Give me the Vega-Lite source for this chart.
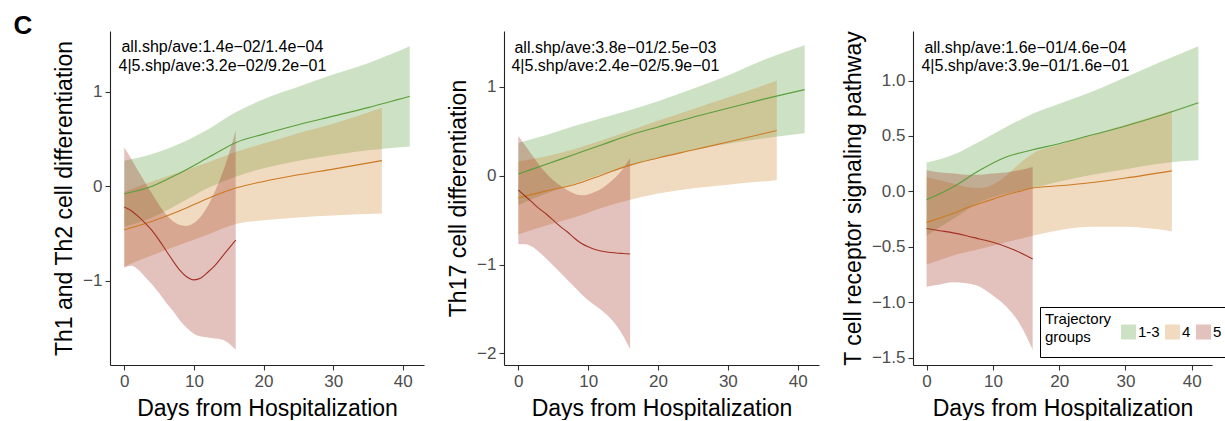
{
  "$schema": "https://vega.github.io/schema/vega-lite/v6.json",
  "padding": {"left": 13, "top": 12, "right": 0, "bottom": 0},
  "title": {"text": "C", "anchor": "start", "fontSize": 26, "fontWeight": "bold", "color": "black", "offset": -8, "dx": -40},
  "config": {
    "font": "Liberation Sans",
    "view": {"stroke": null},
    "axis": {"grid": false, "domainColor": "#222", "domainWidth": 1.1, "tickColor": "#333", "tickSize": 5, "tickWidth": 1.1, "labelColor": "#4d4d4d", "labelFontSize": 17, "labelPadding": 3, "titleFontSize": 23, "titleFontWeight": "normal", "titleColor": "black"},
    "axisX": {"titlePadding": 8},
    "axisY": {"titlePadding": 6}
  },
  "datasets": {
    "curves": [
      {"panel":1,"group":"1-3","day":0,"lo":-0.43,"fit":-0.08,"hi":0.27},
      {"panel":1,"group":"1-3","day":4,"lo":-0.33,"fit":0.00,"hi":0.34},
      {"panel":1,"group":"1-3","day":8,"lo":-0.18,"fit":0.14,"hi":0.45},
      {"panel":1,"group":"1-3","day":12,"lo":-0.02,"fit":0.30,"hi":0.60},
      {"panel":1,"group":"1-3","day":16,"lo":0.10,"fit":0.46,"hi":0.78},
      {"panel":1,"group":"1-3","day":20,"lo":0.19,"fit":0.55,"hi":0.92},
      {"panel":1,"group":"1-3","day":25,"lo":0.27,"fit":0.65,"hi":1.05},
      {"panel":1,"group":"1-3","day":30,"lo":0.33,"fit":0.74,"hi":1.18},
      {"panel":1,"group":"1-3","day":35,"lo":0.38,"fit":0.83,"hi":1.30},
      {"panel":1,"group":"1-3","day":41,"lo":0.42,"fit":0.95,"hi":1.48},
      {"panel":1,"group":"4","day":0,"lo":-0.85,"fit":-0.46,"hi":-0.06},
      {"panel":1,"group":"4","day":4,"lo":-0.73,"fit":-0.37,"hi":0.05},
      {"panel":1,"group":"4","day":8,"lo":-0.62,"fit":-0.26,"hi":0.15},
      {"panel":1,"group":"4","day":12,"lo":-0.51,"fit":-0.13,"hi":0.25},
      {"panel":1,"group":"4","day":16,"lo":-0.40,"fit":-0.02,"hi":0.36},
      {"panel":1,"group":"4","day":20,"lo":-0.36,"fit":0.05,"hi":0.45},
      {"panel":1,"group":"4","day":25,"lo":-0.33,"fit":0.12,"hi":0.56},
      {"panel":1,"group":"4","day":30,"lo":-0.31,"fit":0.18,"hi":0.66},
      {"panel":1,"group":"4","day":37,"lo":-0.29,"fit":0.27,"hi":0.83},
      {"panel":1,"group":"5","day":0,"lo":-0.86,"fit":-0.22,"hi":0.41},
      {"panel":1,"group":"5","day":1,"lo":-0.84,"fit":-0.26,"hi":0.29},
      {"panel":1,"group":"5","day":2,"lo":-0.88,"fit":-0.32,"hi":0.16},
      {"panel":1,"group":"5","day":3,"lo":-0.96,"fit":-0.39,"hi":0.04},
      {"panel":1,"group":"5","day":4,"lo":-1.04,"fit":-0.47,"hi":-0.08},
      {"panel":1,"group":"5","day":5,"lo":-1.13,"fit":-0.57,"hi":-0.20},
      {"panel":1,"group":"5","day":6,"lo":-1.23,"fit":-0.68,"hi":-0.30},
      {"panel":1,"group":"5","day":7,"lo":-1.32,"fit":-0.79,"hi":-0.37},
      {"panel":1,"group":"5","day":8,"lo":-1.42,"fit":-0.89,"hi":-0.41},
      {"panel":1,"group":"5","day":9,"lo":-1.50,"fit":-0.96,"hi":-0.42},
      {"panel":1,"group":"5","day":10,"lo":-1.56,"fit":-0.99,"hi":-0.39},
      {"panel":1,"group":"5","day":11,"lo":-1.59,"fit":-0.97,"hi":-0.32},
      {"panel":1,"group":"5","day":12,"lo":-1.60,"fit":-0.91,"hi":-0.21},
      {"panel":1,"group":"5","day":13,"lo":-1.61,"fit":-0.84,"hi":-0.06},
      {"panel":1,"group":"5","day":14,"lo":-1.62,"fit":-0.75,"hi":0.12},
      {"panel":1,"group":"5","day":15,"lo":-1.66,"fit":-0.66,"hi":0.33},
      {"panel":1,"group":"5","day":16,"lo":-1.73,"fit":-0.57,"hi":0.59},
      {"panel":2,"group":"1-3","day":0,"lo":-0.33,"fit":0.02,"hi":0.37},
      {"panel":2,"group":"1-3","day":4,"lo":-0.20,"fit":0.13,"hi":0.46},
      {"panel":2,"group":"1-3","day":8,"lo":-0.09,"fit":0.24,"hi":0.56},
      {"panel":2,"group":"1-3","day":12,"lo":0.02,"fit":0.35,"hi":0.65},
      {"panel":2,"group":"1-3","day":16,"lo":0.11,"fit":0.46,"hi":0.74},
      {"panel":2,"group":"1-3","day":20,"lo":0.20,"fit":0.55,"hi":0.84},
      {"panel":2,"group":"1-3","day":25,"lo":0.29,"fit":0.66,"hi":0.98},
      {"panel":2,"group":"1-3","day":30,"lo":0.36,"fit":0.76,"hi":1.13},
      {"panel":2,"group":"1-3","day":35,"lo":0.42,"fit":0.86,"hi":1.30},
      {"panel":2,"group":"1-3","day":41,"lo":0.48,"fit":0.97,"hi":1.47},
      {"panel":2,"group":"4","day":0,"lo":-0.66,"fit":-0.25,"hi":0.16},
      {"panel":2,"group":"4","day":4,"lo":-0.56,"fit":-0.17,"hi":0.22},
      {"panel":2,"group":"4","day":8,"lo":-0.47,"fit":-0.10,"hi":0.30},
      {"panel":2,"group":"4","day":12,"lo":-0.36,"fit":0.01,"hi":0.40},
      {"panel":2,"group":"4","day":16,"lo":-0.27,"fit":0.12,"hi":0.51},
      {"panel":2,"group":"4","day":20,"lo":-0.20,"fit":0.20,"hi":0.62},
      {"panel":2,"group":"4","day":25,"lo":-0.14,"fit":0.29,"hi":0.75},
      {"panel":2,"group":"4","day":30,"lo":-0.10,"fit":0.38,"hi":0.88},
      {"panel":2,"group":"4","day":37,"lo":-0.05,"fit":0.51,"hi":1.07},
      {"panel":2,"group":"5","day":0,"lo":-0.77,"fit":-0.16,"hi":0.45},
      {"panel":2,"group":"5","day":1,"lo":-0.77,"fit":-0.23,"hi":0.34},
      {"panel":2,"group":"5","day":2,"lo":-0.80,"fit":-0.30,"hi":0.23},
      {"panel":2,"group":"5","day":3,"lo":-0.86,"fit":-0.37,"hi":0.12},
      {"panel":2,"group":"5","day":4,"lo":-0.93,"fit":-0.43,"hi":0.03},
      {"panel":2,"group":"5","day":5,"lo":-1.01,"fit":-0.50,"hi":-0.05},
      {"panel":2,"group":"5","day":6,"lo":-1.09,"fit":-0.57,"hi":-0.11},
      {"panel":2,"group":"5","day":7,"lo":-1.17,"fit":-0.63,"hi":-0.16},
      {"panel":2,"group":"5","day":8,"lo":-1.25,"fit":-0.70,"hi":-0.20},
      {"panel":2,"group":"5","day":9,"lo":-1.33,"fit":-0.76,"hi":-0.22},
      {"panel":2,"group":"5","day":10,"lo":-1.40,"fit":-0.80,"hi":-0.21},
      {"panel":2,"group":"5","day":11,"lo":-1.46,"fit":-0.83,"hi":-0.18},
      {"panel":2,"group":"5","day":12,"lo":-1.52,"fit":-0.85,"hi":-0.14},
      {"panel":2,"group":"5","day":13,"lo":-1.59,"fit":-0.86,"hi":-0.08},
      {"panel":2,"group":"5","day":14,"lo":-1.68,"fit":-0.87,"hi":-0.01},
      {"panel":2,"group":"5","day":15,"lo":-1.80,"fit":-0.875,"hi":0.08},
      {"panel":2,"group":"5","day":16,"lo":-1.95,"fit":-0.88,"hi":0.20},
      {"panel":3,"group":"1-3","day":0,"lo":-0.40,"fit":-0.075,"hi":0.26},
      {"panel":3,"group":"1-3","day":4,"lo":-0.25,"fit":0.04,"hi":0.33},
      {"panel":3,"group":"1-3","day":8,"lo":-0.10,"fit":0.19,"hi":0.45},
      {"panel":3,"group":"1-3","day":12,"lo":-0.02,"fit":0.31,"hi":0.58},
      {"panel":3,"group":"1-3","day":16,"lo":0.03,"fit":0.375,"hi":0.70},
      {"panel":3,"group":"1-3","day":20,"lo":0.09,"fit":0.43,"hi":0.79},
      {"panel":3,"group":"1-3","day":25,"lo":0.15,"fit":0.51,"hi":0.90},
      {"panel":3,"group":"1-3","day":30,"lo":0.20,"fit":0.59,"hi":1.03},
      {"panel":3,"group":"1-3","day":35,"lo":0.25,"fit":0.68,"hi":1.16},
      {"panel":3,"group":"1-3","day":41,"lo":0.28,"fit":0.80,"hi":1.31},
      {"panel":3,"group":"4","day":0,"lo":-0.66,"fit":-0.28,"hi":0.13},
      {"panel":3,"group":"4","day":2,"lo":-0.62,"fit":-0.24,"hi":0.10},
      {"panel":3,"group":"4","day":4,"lo":-0.58,"fit":-0.20,"hi":0.07},
      {"panel":3,"group":"4","day":6,"lo":-0.55,"fit":-0.15,"hi":0.04},
      {"panel":3,"group":"4","day":8,"lo":-0.52,"fit":-0.11,"hi":0.03},
      {"panel":3,"group":"4","day":10,"lo":-0.49,"fit":-0.07,"hi":0.06},
      {"panel":3,"group":"4","day":12,"lo":-0.46,"fit":-0.03,"hi":0.14},
      {"panel":3,"group":"4","day":14,"lo":-0.43,"fit":0.00,"hi":0.25},
      {"panel":3,"group":"4","day":16,"lo":-0.40,"fit":0.03,"hi":0.34},
      {"panel":3,"group":"4","day":20,"lo":-0.35,"fit":0.05,"hi":0.42},
      {"panel":3,"group":"4","day":25,"lo":-0.32,"fit":0.08,"hi":0.51},
      {"panel":3,"group":"4","day":30,"lo":-0.32,"fit":0.12,"hi":0.60},
      {"panel":3,"group":"4","day":37,"lo":-0.36,"fit":0.185,"hi":0.73},
      {"panel":3,"group":"5","day":0,"lo":-0.86,"fit":-0.335,"hi":0.19},
      {"panel":3,"group":"5","day":2,"lo":-0.84,"fit":-0.355,"hi":0.17},
      {"panel":3,"group":"5","day":4,"lo":-0.82,"fit":-0.375,"hi":0.16},
      {"panel":3,"group":"5","day":6,"lo":-0.83,"fit":-0.40,"hi":0.15},
      {"panel":3,"group":"5","day":8,"lo":-0.86,"fit":-0.43,"hi":0.15},
      {"panel":3,"group":"5","day":10,"lo":-0.94,"fit":-0.46,"hi":0.16},
      {"panel":3,"group":"5","day":12,"lo":-1.04,"fit":-0.50,"hi":0.17},
      {"panel":3,"group":"5","day":14,"lo":-1.19,"fit":-0.55,"hi":0.19},
      {"panel":3,"group":"5","day":16,"lo":-1.43,"fit":-0.61,"hi":0.22}
    ],
    "notes": [
      {"panel":1,"day":14.1,"val":1.415,"label":"all.shp/ave:1.4e−02/1.4e−04"},
      {"panel":1,"day":14.1,"val":1.221,"label":"4|5.shp/ave:3.2e−02/9.2e−01"},
      {"panel":2,"day":13.9,"val":1.387,"label":"all.shp/ave:3.8e−01/2.5e−03"},
      {"panel":2,"day":13.9,"val":1.180,"label":"4|5.shp/ave:2.4e−02/5.9e−01"},
      {"panel":3,"day":14.9,"val":1.252,"label":"all.shp/ave:1.6e−01/4.6e−04"},
      {"panel":3,"day":14.9,"val":1.086,"label":"4|5.shp/ave:3.9e−01/1.6e−01"}
    ]
  },
  "spacing": 23,
  "resolve": {"scale": {"x": "independent", "y": "independent", "fill": "independent", "stroke": "independent"}, "legend": {"fill": "independent", "stroke": "independent"}},
  "hconcat": [
    {
      "width": 314, "height": 334,
      "layer": [
        {"data": {"name": "curves"}, "transform": [{"filter": "datum.panel == 1"}],
         "mark": {"type": "area", "opacity": 0.3, "interpolate": "monotone"},
         "encoding": {
           "x": {"field": "day", "type": "quantitative", "title": "Days from Hospitalization", "scale": {"domain": [-2.05, 43.05], "nice": false, "zero": false}, "axis": {"values": [0, 10, 20, 30, 40]}},
           "y": {"field": "lo", "type": "quantitative", "title": "Th1 and Th2 cell differentiation", "scale": {"domain": [-1.89, 1.64], "nice": false, "zero": false}, "axis": {"values": [-1, 0, 1], "format": "d"}},
           "y2": {"field": "hi"},
           "fill": {"field": "group", "type": "nominal", "scale": {"domain": ["1-3", "4", "5"], "range": ["#5a9e3c", "#cc8530", "#a33224"]}, "legend": null}
         }},
        {"data": {"name": "curves"}, "transform": [{"filter": "datum.panel == 1"}],
         "mark": {"type": "line", "strokeWidth": 1.1, "interpolate": "monotone"},
         "encoding": {
           "x": {"field": "day", "type": "quantitative", "title": "Days from Hospitalization"},
           "y": {"field": "fit", "type": "quantitative", "title": "Th1 and Th2 cell differentiation"},
           "stroke": {"field": "group", "type": "nominal", "scale": {"domain": ["1-3", "4", "5"], "range": ["#5a9e3c", "#cc7a22", "#a33224"]}, "legend": null}
         }},
        {"data": {"name": "notes"}, "transform": [{"filter": "datum.panel == 1"}],
         "mark": {"type": "text", "fontSize": 16, "align": "center", "baseline": "alphabetic", "color": "black"},
         "encoding": {
           "x": {"field": "day", "type": "quantitative", "title": "Days from Hospitalization"},
           "y": {"field": "val", "type": "quantitative", "title": "Th1 and Th2 cell differentiation"},
           "text": {"field": "label"}
         }}
      ]
    },
    {
      "width": 315, "height": 334,
      "layer": [
        {"data": {"name": "curves"}, "transform": [{"filter": "datum.panel == 2"}],
         "mark": {"type": "area", "opacity": 0.3, "interpolate": "monotone"},
         "encoding": {
           "x": {"field": "day", "type": "quantitative", "title": "Days from Hospitalization", "scale": {"domain": [-2.05, 43.05], "nice": false, "zero": false}, "axis": {"values": [0, 10, 20, 30, 40]}},
           "y": {"field": "lo", "type": "quantitative", "title": "Th17 cell differentiation", "scale": {"domain": [-2.13, 1.63], "nice": false, "zero": false}, "axis": {"values": [-2, -1, 0, 1], "format": "d"}},
           "y2": {"field": "hi"},
           "fill": {"field": "group", "type": "nominal", "scale": {"domain": ["1-3", "4", "5"], "range": ["#5a9e3c", "#cc8530", "#a33224"]}, "legend": null}
         }},
        {"data": {"name": "curves"}, "transform": [{"filter": "datum.panel == 2"}],
         "mark": {"type": "line", "strokeWidth": 1.1, "interpolate": "monotone"},
         "encoding": {
           "x": {"field": "day", "type": "quantitative", "title": "Days from Hospitalization"},
           "y": {"field": "fit", "type": "quantitative", "title": "Th17 cell differentiation"},
           "stroke": {"field": "group", "type": "nominal", "scale": {"domain": ["1-3", "4", "5"], "range": ["#5a9e3c", "#cc7a22", "#a33224"]}, "legend": null}
         }},
        {"data": {"name": "notes"}, "transform": [{"filter": "datum.panel == 2"}],
         "mark": {"type": "text", "fontSize": 16, "align": "center", "baseline": "alphabetic", "color": "black"},
         "encoding": {
           "x": {"field": "day", "type": "quantitative", "title": "Days from Hospitalization"},
           "y": {"field": "val", "type": "quantitative", "title": "Th17 cell differentiation"},
           "text": {"field": "label"}
         }}
      ]
    },
    {
      "width": 299, "height": 334,
      "layer": [
        {"data": {"name": "curves"}, "transform": [{"filter": "datum.panel == 3"}],
         "mark": {"type": "area", "opacity": 0.3, "interpolate": "monotone"},
         "encoding": {
           "x": {"field": "day", "type": "quantitative", "title": "Days from Hospitalization", "scale": {"domain": [-2.05, 43.05], "nice": false, "zero": false}, "axis": {"values": [0, 10, 20, 30, 40]}},
           "y": {"field": "lo", "type": "quantitative", "title": "T cell receptor signaling pathway", "scale": {"domain": [-1.567, 1.447], "nice": false, "zero": false}, "axis": {"values": [-1.5, -1, -0.5, 0, 0.5, 1], "format": ".1f"}},
           "y2": {"field": "hi"},
           "fill": {"field": "group", "type": "nominal", "scale": {"domain": ["1-3", "4", "5"], "range": ["#5a9e3c", "#cc8530", "#a33224"]},
             "legend": {"orient": "none", "legendX": 127, "legendY": 276, "direction": "horizontal", "title": ["Trajectory", "groups"], "titleOrient": "left", "titleAnchor": "start", "titleBaseline": "top", "titleFontSize": 15, "titleFontWeight": "normal", "titleColor": "black", "titleLineHeight": 18, "labelFontSize": 15, "labelColor": "black", "symbolType": "square", "symbolSize": 225, "symbolOpacity": 0.3, "symbolStrokeWidth": 0, "labelOffset": 2, "columnPadding": 5, "titlePadding": 9, "padding": 5, "clipHeight": 40, "strokeColor": "black"}}
         }},
        {"data": {"name": "curves"}, "transform": [{"filter": "datum.panel == 3"}],
         "mark": {"type": "line", "strokeWidth": 1.1, "interpolate": "monotone"},
         "encoding": {
           "x": {"field": "day", "type": "quantitative", "title": "Days from Hospitalization"},
           "y": {"field": "fit", "type": "quantitative", "title": "T cell receptor signaling pathway"},
           "stroke": {"field": "group", "type": "nominal", "scale": {"domain": ["1-3", "4", "5"], "range": ["#5a9e3c", "#cc7a22", "#a33224"]}, "legend": null}
         }},
        {"data": {"name": "notes"}, "transform": [{"filter": "datum.panel == 3"}],
         "mark": {"type": "text", "fontSize": 16, "align": "center", "baseline": "alphabetic", "color": "black"},
         "encoding": {
           "x": {"field": "day", "type": "quantitative", "title": "Days from Hospitalization"},
           "y": {"field": "val", "type": "quantitative", "title": "T cell receptor signaling pathway"},
           "text": {"field": "label"}
         }}
      ]
    }
  ]
}
